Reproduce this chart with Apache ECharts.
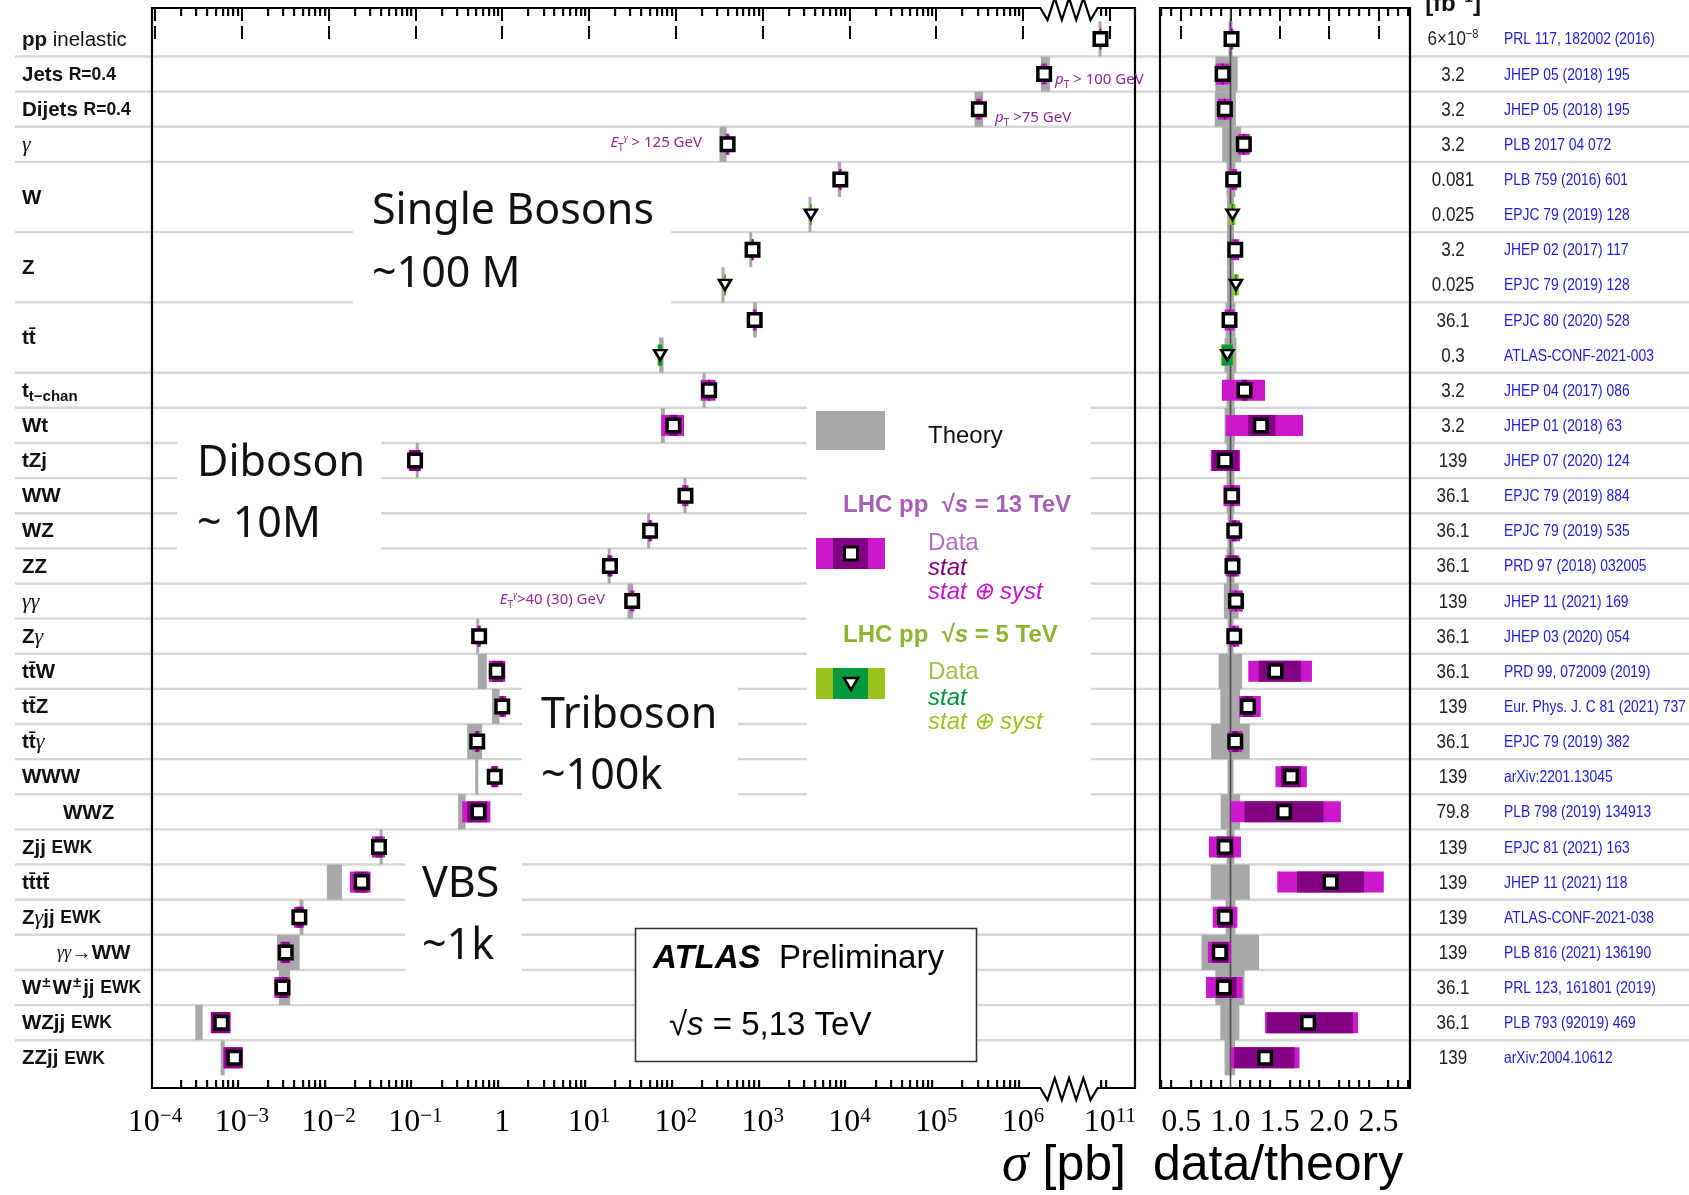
<!DOCTYPE html>
<html>
<head>
<meta charset="utf-8">
<title>ATLAS cross-section summary</title>
<script src="https://cdn.jsdelivr.net/npm/echarts@6.0.0/dist/echarts.min.js"></script>
<style>
  html, body { margin: 0; padding: 0; background: #fff; }
  #chart { width: 1689px; height: 1195px; }
</style>
</head>
<body>
<div id="chart"></div>
<script>
// ---------------- measurements (top to bottom) ----------------
const processLabels = ['pp inelastic', 'Jets R=0.4', 'Dijets R=0.4', 'γ', 'W', 'Z', 'tt\u0304', 't t-chan', 'Wt', 'tZj',
  'WW', 'WZ', 'ZZ', 'γγ', 'Zγ', 'tt\u0304W', 'tt\u0304Z', 'tt\u0304γ', 'WWW', 'WWZ', 'Zjj EWK', 'tt\u0304tt\u0304',
  'Zγjj EWK', 'γγ→WW', 'W±W±jj EWK', 'WZjj EWK', 'ZZjj EWK'];
// measurement rows under each process label (W, Z and tt̄ have 13 TeV and 5 TeV results)
const processRows = [1, 1, 1, 1, 2, 2, 2, 1, 1, 1, 1, 1, 1, 1, 1, 1, 1, 1, 1, 1, 1, 1, 1, 1, 1, 1, 1];
// centre-of-mass energy of every measurement row [TeV]
const sqrtS = [13, 13, 13, 13, 13, 5, 13, 5, 13, 5, 13, 13, 13, 13, 13, 13, 13, 13, 13, 13, 13, 13, 13, 13, 13, 13, 13, 13, 13, 13];
// measured cross section [pb]
const sigmaPb = [7.8e10, 1.75e6, 3.1e5, 395, 7850, 3590, 765, 369, 810, 66, 242, 93.5, 0.099, 129, 50.5, 17.4, 31.4,
  0.542, 0.865, 1.0, 0.515, 0.82, 0.532, 0.038, 0.024, 0.0046, 0.0032, 0.00294, 0.00058, 0.00082];
// data / theory
const ratio = [1.01, 0.92, 0.943, 1.135, 1.027, 1.02, 1.048, 1.055, 0.99, 0.968, 1.142, 1.307, 0.943, 1.013, 1.038,
  1.02, 1.055, 1.038, 1.456, 1.177, 1.048, 1.613, 1.543, 0.943, 2.014, 0.943, 0.891, 0.932, 1.787, 1.351];
// total (stat ⊕ syst) uncertainty on data/theory, down and up
const totDn = [0.02, 0.07, 0.07, 0.06, 0.04, 0.03, 0.04, 0.03, 0.05, 0.065, 0.229, 0.357, 0.143, 0.085, 0.05, 0.07,
  0.07, 0.05, 0.276, 0.09, 0.07, 0.157, 0.54, 0.161, 0.54, 0.123, 0.121, 0.18, 0.436, 0.348];
const totUp = [0.02, 0.07, 0.07, 0.06, 0.04, 0.03, 0.04, 0.03, 0.05, 0.065, 0.208, 0.428, 0.154, 0.085, 0.06, 0.07,
  0.07, 0.05, 0.37, 0.13, 0.07, 0.161, 0.576, 0.163, 0.54, 0.127, 0.113, 0.19, 0.506, 0.349];
// statistical uncertainty on data/theory, down and up
const statDn = [0.005, 0.01, 0.01, 0.01, 0.005, 0.01, 0.005, 0.01, 0.005, 0.055, 0.03, 0.127, 0.13, 0.02, 0.02, 0.045,
  0.01, 0.01, 0.17, 0.05, 0.03, 0.1, 0.40, 0.083, 0.34, 0.07, 0.08, 0.08, 0.419, 0.313];
const statUp = [0.005, 0.01, 0.01, 0.01, 0.005, 0.01, 0.005, 0.01, 0.005, 0.055, 0.03, 0.149, 0.14, 0.02, 0.02, 0.045,
  0.01, 0.01, 0.26, 0.05, 0.03, 0.1, 0.40, 0.087, 0.34, 0.07, 0.09, 0.13, 0.454, 0.297];
// relative theory uncertainty, down and up
const thDn = [0.02, 0.154, 0.16, 0.084, 0.04, 0.035, 0.035, 0.035, 0.05, 0.06, 0.04, 0.06, 0.04, 0.04, 0.03, 0.04,
  0.067, 0.03, 0.12, 0.103, 0.196, 0.03, 0.1, 0.04, 0.2, 0.05, 0.294, 0.154, 0.103, 0.06];
const thUp = [0.02, 0.072, 0.055, 0.107, 0.05, 0.035, 0.035, 0.035, 0.05, 0.06, 0.04, 0.045, 0.04, 0.04, 0.03, 0.04,
  0.083, 0.03, 0.118, 0.097, 0.195, 0.03, 0.097, 0.04, 0.195, 0.05, 0.29, 0.142, 0.09, 0.045];
// integrated luminosity [fb^-1]
const lumiFb = ['6×10^−8', '3.2', '3.2', '3.2', '0.081', '0.025', '3.2', '0.025', '36.1', '0.3', '3.2', '3.2', '139',
  '36.1', '36.1', '36.1', '139', '36.1', '36.1', '139', '36.1', '139', '79.8', '139', '139', '139', '139', '36.1', '36.1', '139'];
// publication
const references = ['PRL 117, 182002 (2016)', 'JHEP 05 (2018) 195', 'JHEP 05 (2018) 195', 'PLB 2017 04 072',
  'PLB 759 (2016) 601', 'EPJC 79 (2019) 128', 'JHEP 02 (2017) 117', 'EPJC 79 (2019) 128', 'EPJC 80 (2020) 528',
  'ATLAS-CONF-2021-003', 'JHEP 04 (2017) 086', 'JHEP 01 (2018) 63', 'JHEP 07 (2020) 124', 'EPJC 79 (2019) 884',
  'EPJC 79 (2019) 535', 'PRD 97 (2018) 032005', 'JHEP 11 (2021) 169', 'JHEP 03 (2020) 054', 'PRD 99, 072009 (2019)',
  'Eur. Phys. J. C 81 (2021) 737', 'EPJC 79 (2019) 382', 'arXiv:2201.13045', 'PLB 798 (2019) 134913',
  'EPJC 81 (2021) 163', 'JHEP 11 (2021) 118', 'ATLAS-CONF-2021-038', 'PLB 816 (2021) 136190', 'PRL 123, 161801 (2019)',
  'PLB 793 (92019) 469', 'arXiv:2004.10612'];
// cross-section axis decades (exponents); 11 sits after the axis break
const decadeExponents = [-4, -3, -2, -1, 0, 1, 2, 3, 4, 5, 6, 11];
const ratioTickLabels = [0.5, 1.0, 1.5, 2.0, 2.5];

// ---------------- layout & style ----------------
const SANS = "'Liberation Sans', Arial, Helvetica, sans-serif";
const SERIF = "'Liberation Serif', 'Times New Roman', serif";
const TITLE = "'Noto Sans', 'Open Sans', sans-serif";
const C = {
  theory: '#a8a8a8', tot13: '#cc18cc', stat13: '#820082', tot5: '#9ac31c', stat5: '#009a3e',
  grid: '#d6d6d6', annot: '#952895', ref: '#1c1cdc'
};
const U_MIN = -4.035, U_MAX = 7.29;          // log10(sigma/pb) with 10^7…10^11 folded away
const ROW_MIN = -0.88, ROW_MAX = 29.86;
const R_MIN = 0.285, R_MAX = 2.82;
const BREAK_FROM = 6.2, BREAK_TO = 6.86;
const LABEL_DY = 1;

function axisU(sigma) {                      // position on the broken log axis
  const l = Math.log10(sigma);
  return l > 7 ? l - 4 : l;
}
const expToU = e => (e > 7 ? e - 4 : e);

const rows = sigmaPb.map((_, i) => i);

// row centre of each process label and the separators between processes
const labelRows = [];
const separators = [];
(function () {
  let r = 0;
  processRows.forEach((n, k) => {
    labelRows.push([0, r + (n - 1) / 2, k]);
    r += n;
    if (k < processRows.length - 1) separators.push([0, r - 0.5]);
  });
})();

// ticks
const majorU = decadeExponents.map(expToU);
const minorU = [];
for (let d = -4; d < 6; d++) for (let k = 2; k < 10; k++) minorU.push(d + Math.log10(k));
minorU.push(expToU(11) + Math.log10(0.8), expToU(11) + Math.log10(0.9));
const ratioMinor = [];
for (let k = 3; k <= 28; k++) if (k % 5) ratioMinor.push(k / 10);

// ---------------- derived series data ----------------
const theoryPb = sigmaPb.map((s, i) => s / ratio[i]);
const mainTheory = rows.map(i => [axisU(theoryPb[i] * (1 - thDn[i])), axisU(theoryPb[i] * (1 + thUp[i])), i]);
const mainTot = rows.map(i => [axisU(sigmaPb[i] * (ratio[i] - totDn[i]) / ratio[i]),
  axisU(sigmaPb[i] * (ratio[i] + totUp[i]) / ratio[i]), i, sqrtS[i]]);
const mainStat = rows.map(i => [axisU(sigmaPb[i] * (ratio[i] - statDn[i]) / ratio[i]),
  axisU(sigmaPb[i] * (ratio[i] + statUp[i]) / ratio[i]), i, sqrtS[i]]);
const ratioTheory = rows.map(i => [1 - thDn[i], 1 + thUp[i], i]);
const ratioTot = rows.map(i => [ratio[i] - totDn[i], ratio[i] + totUp[i], i, sqrtS[i]]);
const ratioStat = rows.map(i => [ratio[i] - statDn[i], ratio[i] + statUp[i], i, sqrtS[i]]);

function marker(x, i) {
  const tri = sqrtS[i] === 5;
  return {
    value: [x, i],
    symbol: tri ? 'triangle' : 'rect',
    symbolSize: tri ? [12, 10] : 12.5,
    symbolRotate: tri ? 180 : 0,
    itemStyle: { color: '#fff', opacity: 1, borderColor: '#000', borderWidth: tri ? 2.6 : 3.5 }
  };
}
const mainPoints = rows.map(i => marker(axisU(sigmaPb[i]), i));
const ratioPoints = rows.map(i => marker(ratio[i], i));

// tick marks on the panel edges: [axis value, edge (0 top / 1 bottom), length]
function edgeTicks(values, len) {
  const out = [];
  values.forEach(v => { out.push([v, 0, len]); out.push([v, 1, len]); });
  return out;
}

// ---------------- renderers ----------------
function band(height, colorOf, minW) {
  return function (params, api) {
    const row = api.value(2);
    const a = api.coord([api.value(0), row]);
    const b = api.coord([api.value(1), row]);
    let x = Math.min(a[0], b[0]);
    let w = Math.abs(b[0] - a[0]);
    if (w < minW) { x = (a[0] + b[0]) / 2 - minW / 2; w = minW; }
    const h = height === 'row' ? api.size([0, 1])[1] : height;
    return { type: 'rect', shape: { x: x, y: a[1] - h / 2, width: w, height: h }, style: { fill: colorOf(api) } };
  };
}
const totColor = api => (api.value(3) === 5 ? C.tot5 : C.tot13);
const statColor = api => (api.value(3) === 5 ? C.stat5 : C.stat13);

function tickRenderer(params, api) {
  const bottom = api.value(1) === 1;
  const len = api.value(2);
  const p = api.coord([api.value(0), bottom ? ROW_MAX : ROW_MIN]);
  const y2 = bottom ? p[1] - len : p[1] + len;
  return { type: 'rect', shape: { x: Math.round(p[0]) - 1, y: Math.min(p[1], y2), width: 2.2, height: len },
    style: { fill: '#000' } };
}

const richBase = (o) => Object.assign({ fill: '#111', color: '#111' }, o);
const labelRich = {
  b: richBase({ fontFamily: SANS, fontWeight: 'bold', fontSize: 20.5, lineHeight: 26 }),
  r: richBase({ fontFamily: SANS, fontSize: 20.5, lineHeight: 26 }),
  s: richBase({ fontFamily: SANS, fontWeight: 'bold', fontSize: 17.5, lineHeight: 26 }),
  g: richBase({ fontFamily: SERIF, fontStyle: 'italic', fontSize: 22, lineHeight: 26 }),
  gs: richBase({ fontFamily: SERIF, fontStyle: 'italic', fontSize: 18, lineHeight: 26 }),
  sub: richBase({ fontFamily: SANS, fontWeight: 'bold', fontSize: 15, lineHeight: 15, verticalAlign: 'bottom' }),
  sup: richBase({ fontFamily: SANS, fontWeight: 'bold', fontSize: 15, lineHeight: 15, verticalAlign: 'top', padding: [0, 2, 0, 1] })
};
const LABEL_MARKUP = {
  'pp inelastic': '{b|pp}{r| inelastic}',
  'Jets R=0.4': '{b|Jets }{s|R=0.4}',
  'Dijets R=0.4': '{b|Dijets }{s|R=0.4}',
  'γ': '{g|γ}',
  't t-chan': '{b|t}{sub|t−chan}',
  'γγ': '{g|γγ}',
  'Zγ': '{b|Z}{g|γ}',
  'tt\u0304γ': '{b|tt\u0304}{g|γ}',
  'Zjj EWK': '{b|Zjj }{s|EWK}',
  'Zγjj EWK': '{b|Z}{g|γ}{b|jj }{s|EWK}',
  'γγ→WW': '{gs|γγ}{b|→WW}',
  'W±W±jj EWK': '{b|W}{sup|±}{b|W}{sup|±}{b|jj }{s|EWK}',
  'WZjj EWK': '{b|WZjj }{s|EWK}',
  'ZZjj EWK': '{b|ZZjj }{s|EWK}'
};
const LABEL_X = { 'WWZ': 63, 'γγ→WW': 57 };

// panel frame: edges, with the zig-zag axis break where needed
function frameRenderer(withBreak, xMin, xMax) {
  return function (params, api) {
    const tl = api.coord([xMin, ROW_MIN]);
    const br = api.coord([xMax, ROW_MAX]);
    const st = { stroke: '#000', lineWidth: 2.2, fill: null };
    const edge = (y) => {
      if (!withBreak) return [[tl[0], y], [br[0], y]];
      const a = api.coord([BREAK_FROM, ROW_MIN])[0];
      const b = api.coord([BREAK_TO, ROW_MIN])[0];
      const pts = [[tl[0], y], [a, y]];
      for (let k = 0; k < 7; k++) pts.push([a + (b - a) * (k + 1) / 8, y + (k % 2 === 0 ? 12 : -10)]);
      pts.push([b, y], [br[0], y]);
      return pts;
    };
    return {
      type: 'group', children: [
        { type: 'polyline', shape: { points: edge(tl[1]) }, style: st },
        { type: 'polyline', shape: { points: edge(br[1]) }, style: st },
        { type: 'line', shape: { x1: tl[0], y1: tl[1] - 1, x2: tl[0], y2: br[1] + 1 }, style: st },
        { type: 'line', shape: { x1: br[0], y1: tl[1] - 1, x2: br[0], y2: br[1] + 1 }, style: st }
      ]
    };
  };
}

function tickAxis(grid, pos, min, max, values, len, label) {
  return {
    gridIndex: grid, type: 'value', position: pos, min: min, max: max, silent: true,
    axisLine: { show: false }, splitLine: { show: false },
    axisTick: { show: true, inside: true, length: len, customValues: values, lineStyle: { color: '#000', width: 2 } },
    axisLabel: label ? Object.assign({ show: true, customValues: values }, label) : { show: false }
  };
}
const tickRich = {
  b: { fontFamily: SERIF, fontSize: 32, color: '#000', lineHeight: 34 },
  e: { fontFamily: SERIF, fontSize: 21, color: '#000', lineHeight: 22, verticalAlign: 'top' }
};
const decadeLabel = {
  margin: 18, rich: tickRich,
  formatter: function (v) {
    const e = decadeExponents[majorU.indexOf(v)];
    if (e === 0) return '{b|1}';
    return '{b|10}{e|' + (e < 0 ? '−' + (-e) : e) + '}';
  }
};
const ratioLabel = {
  margin: 18, rich: tickRich,
  formatter: v => '{b|' + v.toFixed(1) + '}'
};

const gridLayout = { outerBoundsMode: 'none', containLabel: false, show: false };

// ---------------- chart ----------------
const chart = echarts.init(document.getElementById('chart'), null, { width: 1689, height: 1195 });

const title = (text, x, y) => ({
  type: 'text', z: 12, x: x, y: y,
  style: { text: text, fill: '#111', font: "43px 'Noto Sans', sans-serif", align: 'left', verticalAlign: 'middle',
    textAlign: 'left', textVerticalAlign: 'middle' }
});
const plain = (text, x, y, font, fill, align) => ({
  type: 'text', z: 12, x: x, y: y,
  style: { text: text, fill: fill || '#111', font: font, align: align || 'left', verticalAlign: 'middle',
    textAlign: align || 'left', textVerticalAlign: 'middle' }
});
const richText = (text, x, y, rich, align) => ({
  type: 'text', z: 12, x: x, y: y,
  style: { text: text, rich: rich, align: align || 'left', verticalAlign: 'middle',
    textAlign: align || 'left', textVerticalAlign: 'middle' }
});
const white = (x, y, w, h) => ({ type: 'rect', z: 3, shape: { x: x, y: y, width: w, height: h }, style: { fill: '#fff' } });
const annotRich = {
  i: { fontFamily: TITLE, fontStyle: 'italic', fontSize: 15, fill: C.annot, lineHeight: 20 },
  n: { fontFamily: TITLE, fontSize: 15, fill: C.annot, lineHeight: 20 },
  sub: { fontFamily: TITLE, fontSize: 10, fill: C.annot, lineHeight: 10, verticalAlign: 'bottom' },
  sup: { fontFamily: SERIF, fontStyle: 'italic', fontSize: 10, fill: C.annot, lineHeight: 10, verticalAlign: 'top' }
};
const legendRich = (color) => ({
  t: { fontFamily: SANS, fontWeight: 'bold', fontSize: 24, fill: color, lineHeight: 28 },
  i: { fontFamily: SANS, fontWeight: 'bold', fontStyle: 'italic', fontSize: 24, fill: color, lineHeight: 28 }
});
const axisTitleRich = {
  g: { fontFamily: SERIF, fontStyle: 'italic', fontSize: 54, fill: '#000', lineHeight: 56 },
  t: { fontFamily: SANS, fontSize: 50, fill: '#000', lineHeight: 56 }
};
const LEG_FONT = "24px 'Liberation Sans', Arial, sans-serif";
const LEG_ITALIC = "italic 24px 'Liberation Sans', Arial, sans-serif";

chart.setOption({
  animation: false,
  backgroundColor: '#fff',
  grid: [
    Object.assign({ left: 152, top: 8, width: 983, height: 1080 }, gridLayout),
    Object.assign({ left: 1160, top: 8, width: 250, height: 1080 }, gridLayout)
  ],
  xAxis: [
    tickAxis(0, 'bottom', U_MIN, U_MAX, majorU, 13, decadeLabel),
    tickAxis(0, 'top', U_MIN, U_MAX, majorU, 13),
    tickAxis(1, 'bottom', R_MIN, R_MAX, ratioTickLabels, 13, ratioLabel),
    tickAxis(1, 'top', R_MIN, R_MAX, ratioTickLabels, 13)
  ],
  yAxis: [
    { gridIndex: 0, type: 'value', min: ROW_MIN, max: ROW_MAX, inverse: true, show: false },
    { gridIndex: 1, type: 'value', min: ROW_MIN, max: ROW_MAX, inverse: true, show: false }
  ],
  graphic: [
    // white panels that interrupt the separators
    white(353, 168, 318, 182),
    white(177, 418, 204, 145),
    white(522, 668, 216, 143),
    white(405, 848, 117, 140),
    white(807, 392, 284, 418),
    { type: 'rect', z: 3, shape: { x: 635.5, y: 928.5, width: 341, height: 133 },
      style: { fill: '#fff', stroke: '#333', lineWidth: 1.6 } },
    // process groups
    title('Single Bosons', 372, 211.5),
    title('~100 M', 372, 274.5),
    title('Diboson', 197, 463.5),
    title('~ 10M', 197, 524.5),
    title('Triboson', 541, 715.5),
    title('~100k', 541, 776.5),
    title('VBS', 422, 884.5),
    title('~1k', 422, 946.5),
    // legend
    { type: 'rect', z: 12, shape: { x: 816, y: 411, width: 69, height: 39 }, style: { fill: C.theory } },
    plain('Theory', 928, 436, LEG_FONT),
    richText('{t|LHC pp  √}{i|s}{t| = 13 TeV}', 843, 505, legendRich('#a661b6')),
    { type: 'rect', z: 12, shape: { x: 816, y: 538, width: 69, height: 31 }, style: { fill: C.tot13 } },
    { type: 'rect', z: 12, shape: { x: 833, y: 538, width: 35, height: 31 }, style: { fill: C.stat13 } },
    { type: 'rect', z: 13, shape: { x: 844.5, y: 547, width: 13, height: 13 },
      style: { fill: '#fff', stroke: '#000', lineWidth: 3 } },
    plain('Data', 928, 543, LEG_FONT, '#b06dc0'),
    plain('stat', 928, 568, LEG_ITALIC, '#800080'),
    plain('stat ⊕ syst', 928, 592, LEG_ITALIC, '#c814c8'),
    richText('{t|LHC pp  √}{i|s}{t| = 5 TeV}', 843, 635, legendRich('#8db630')),
    { type: 'rect', z: 12, shape: { x: 816, y: 668, width: 69, height: 31 }, style: { fill: C.tot5 } },
    { type: 'rect', z: 12, shape: { x: 833, y: 668, width: 35, height: 31 }, style: { fill: C.stat5 } },
    { type: 'polygon', z: 13, shape: { points: [[844, 678], [858, 678], [851, 690]] },
      style: { fill: '#fff', stroke: '#000', lineWidth: 2.5 } },
    plain('Data', 928, 672, LEG_FONT, '#9cc04a'),
    plain('stat', 928, 698, LEG_ITALIC, '#009440'),
    plain('stat ⊕ syst', 928, 722, LEG_ITALIC, '#99c21a'),
    // experiment label
    richText('{a|ATLAS}{p|  Preliminary}', 653, 959, {
      a: { fontFamily: SANS, fontWeight: 'bold', fontStyle: 'italic', fontSize: 33, fill: '#000', lineHeight: 38 },
      p: { fontFamily: SANS, fontSize: 33, fill: '#000', lineHeight: 38 }
    }),
    richText('{t|√}{i|s}{t| = 5,13 TeV}', 669, 1026, {
      t: { fontFamily: SANS, fontSize: 33, fill: '#000', lineHeight: 38 },
      i: { fontFamily: SANS, fontStyle: 'italic', fontSize: 33, fill: '#000', lineHeight: 38 }
    }),
    // kinematic selections
    richText('{i|p}{sub|T}{n| > 100 GeV}', 1055, 80, annotRich),
    richText('{i|p}{sub|T}{n| >75 GeV}', 995, 118, annotRich),
    richText('{i|E}{sub|T}{sup|γ}{n| > 125 GeV}', 702, 143, annotRich, 'right'),
    richText('{i|E}{sub|T}{sup|γ}{n|>40 (30) GeV}', 605, 600, annotRich, 'right'),
    // axis titles
    richText('{g|σ}{t| [pb]}', 1126, 1166, axisTitleRich, 'right'),
    richText('{t|data/theory}', 1153, 1166, axisTitleRich),
    // luminosity column header
    richText('{t|[fb}{e|−1}{t|]}', 1453, 4, {
      t: { fontFamily: SANS, fontWeight: 'bold', fontSize: 24, fill: '#111', lineHeight: 28 },
      e: { fontFamily: SANS, fontWeight: 'bold', fontSize: 15, fill: '#111', lineHeight: 15, verticalAlign: 'top' }
    }, 'center')
  ],
  series: [
    { // separators between processes
      type: 'custom', xAxisIndex: 0, yAxisIndex: 0, z: 1, silent: true, clip: false, data: separators,
      renderItem: (p, api) => {
        const y = api.coord([0, api.value(1)])[1];
        return { type: 'line', shape: { x1: 15, y1: y, x2: 1689, y2: y }, style: { stroke: C.grid, lineWidth: 2.4 } };
      }
    },
    { type: 'custom', xAxisIndex: 0, yAxisIndex: 0, z: 6, silent: true, data: mainTheory, renderItem: band('row', () => C.theory, 3) },
    { type: 'custom', xAxisIndex: 0, yAxisIndex: 0, z: 7, silent: true, data: mainTot, renderItem: band(21, totColor, 2) },
    { type: 'custom', xAxisIndex: 0, yAxisIndex: 0, z: 8, silent: true, data: mainStat, renderItem: band(21, statColor, 1) },
    { type: 'scatter', xAxisIndex: 0, yAxisIndex: 0, z: 9, silent: true, data: mainPoints },
    { type: 'custom', xAxisIndex: 2, yAxisIndex: 1, z: 6, silent: true, data: ratioTheory, renderItem: band('row', () => C.theory, 3) },
    { // data/theory = 1
      type: 'custom', xAxisIndex: 2, yAxisIndex: 1, z: 7, silent: true, data: [[1, 0]],
      renderItem: (p, api) => {
        const a = api.coord([api.value(0), ROW_MIN]);
        const b = api.coord([api.value(0), ROW_MAX]);
        return { type: 'line', shape: { x1: a[0], y1: a[1], x2: b[0], y2: b[1] }, style: { stroke: '#4a4a4a', lineWidth: 1.6 } };
      }
    },
    { type: 'custom', xAxisIndex: 2, yAxisIndex: 1, z: 8, silent: true, data: ratioTot, renderItem: band(21, totColor, 2) },
    { type: 'custom', xAxisIndex: 2, yAxisIndex: 1, z: 8.5, silent: true, data: ratioStat, renderItem: band(21, statColor, 1) },
    { type: 'scatter', xAxisIndex: 2, yAxisIndex: 1, z: 9, silent: true, data: ratioPoints },
    { // frames
      type: 'custom', xAxisIndex: 0, yAxisIndex: 0, z: 11, silent: true, clip: false, data: [[0, 0]],
      renderItem: frameRenderer(true, U_MIN, U_MAX)
    },
    {
      type: 'custom', xAxisIndex: 2, yAxisIndex: 1, z: 11, silent: true, clip: false, data: [[1, 0]],
      renderItem: frameRenderer(false, R_MIN, R_MAX)
    },
    { // minor ticks
      type: 'custom', xAxisIndex: 0, yAxisIndex: 0, z: 15, silent: true, clip: false,
      data: edgeTicks(minorU, 8), renderItem: tickRenderer
    },
    {
      type: 'custom', xAxisIndex: 2, yAxisIndex: 1, z: 15, silent: true, clip: false,
      data: edgeTicks(ratioMinor, 8), renderItem: tickRenderer
    },
    { // process labels
      type: 'custom', xAxisIndex: 0, yAxisIndex: 0, z: 12, silent: true, clip: false, data: labelRows,
      renderItem: (p, api) => {
        const name = processLabels[api.value(2)];
        const y = api.coord([0, api.value(1)])[1] + LABEL_DY;
        return {
          type: 'text', x: LABEL_X[name] || 22, y: y,
          style: { text: LABEL_MARKUP[name] || '{b|' + name + '}', rich: labelRich,
            align: 'left', verticalAlign: 'middle', textAlign: 'left', textVerticalAlign: 'middle' }
        };
      }
    },
    { // luminosity and publication columns
      type: 'custom', xAxisIndex: 0, yAxisIndex: 0, z: 12, silent: true, clip: false,
      data: rows.map(i => [0, i]),
      renderItem: (p, api) => {
        const i = api.value(1);
        const y = api.coord([0, i])[1] + 1;
        const parts = lumiFb[i].split('^');
        const lumiText = parts.length > 1 ? '{n|' + parts[0] + '}{e|' + parts[1] + '}' : '{n|' + parts[0] + '}';
        return {
          type: 'group', children: [
            { type: 'text', x: 1453, y: y, scaleX: 0.85, style: { text: lumiText, align: 'center', verticalAlign: 'middle',
              textAlign: 'center', textVerticalAlign: 'middle',
              rich: { n: { fontFamily: SANS, fontSize: 20, fill: '#222', lineHeight: 24 },
                      e: { fontFamily: SANS, fontSize: 13, fill: '#222', lineHeight: 13, verticalAlign: 'top' } } } },
            { type: 'text', x: 1504, y: y, scaleX: 0.84, style: { text: references[i], fill: C.ref,
              font: "16.5px 'Liberation Sans', Arial, sans-serif", align: 'left', verticalAlign: 'middle',
              textAlign: 'left', textVerticalAlign: 'middle' } }
          ]
        };
      }
    }
  ]
});
</script>
</body>
</html>
